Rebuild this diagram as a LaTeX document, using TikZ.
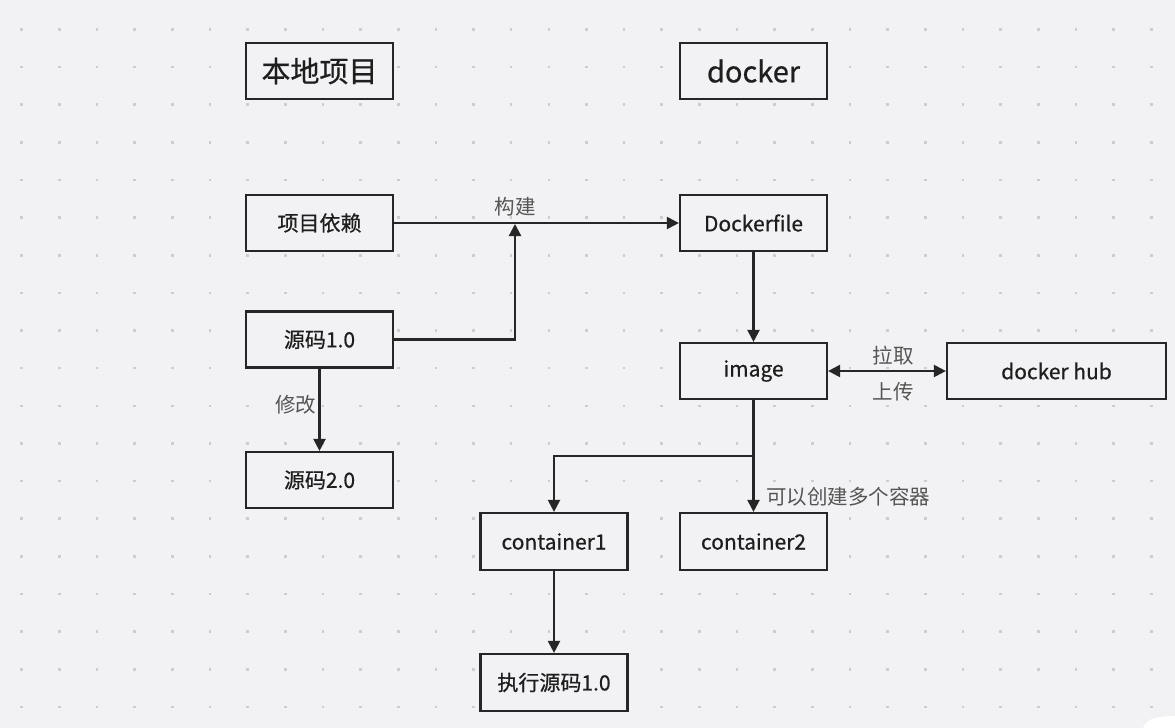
\documentclass[tikz,border=0pt]{standalone}
\usepackage{fontspec}
\setmainfont{Noto Sans CJK SC}
\newfontfamily\boxfont[FakeBold=0.6]{Noto Sans CJK SC}
\usetikzlibrary{arrows.meta,positioning}

\definecolor{paper}{HTML}{F2F2F4}
\definecolor{griddot}{HTML}{CDCDD1}
\definecolor{boxline}{HTML}{262626}
\definecolor{boxtext}{HTML}{1E1E1E}
\definecolor{notetext}{HTML}{555555}

\begin{document}
\begin{tikzpicture}[x=1pt, y=-1pt,
    box/.style={draw=boxline, line width=2.2pt, fill=paper, text=boxtext,
      minimum width=147pt, minimum height=56pt, inner sep=0pt,
      font=\boxfont\fontsize{21}{24}\selectfont},
    titlebox/.style={box, font=\boxfont\fontsize{29}{34}\selectfont},
    link/.style={draw=boxline, line width=2.2pt,
      -{Triangle[length=12pt, width=12pt]}},
    twoway/.style={link, {Triangle[length=12pt, width=12pt]}-{Triangle[length=12pt, width=12pt]}},
    note/.style={text=notetext, inner sep=0pt, font=\fontsize{20.5}{24}\selectfont}]

  % --- canvas with dot grid ---
  \useasboundingbox (0,0) rectangle (1175,728);
  \fill[paper] (0,0) rectangle (1175,728);
  \foreach \i in {0,...,30}
    \foreach \j in {0,...,18}
      \fill[griddot] (21.7+37.65*\i-1.3, 29.3+37.65*\j-1.3) rectangle ++(2.6,2.6);
  % corner of the window (screenshot)
  \fill[white] (1143,728) .. controls (1146,719) and (1156,716) .. (1175,716)
    -- (1175,728) -- cycle;

  % --- column titles ---
  \node[titlebox] (local)  at (319.5,71) {本地项目};
  \node[titlebox] (docker) at (753.5,71) {docker};

  % --- local project ---
  \node[box] (deps) at (319.5,223)   {项目依赖};
  \node[box] (src1) at (319.5,339.5) {源码1.0};
  \node[box] (src2) at (319.5,480)   {源码2.0};

  % --- docker side ---
  \node[box] (dockerfile) at (753.5,223) {Dockerfile};
  \node[box] (image)      at (753.5,371) {image};
  \node[box, minimum width=219pt] (hub) at (1056.5,371) {docker hub};
  \node[box, minimum height=57pt] (cont1) at (554,541.5)   {container1};
  \node[box, minimum height=57pt] (cont2) at (753.5,541.5) {container2};
  \node[box, minimum height=57pt] (run)   at (554,682.5)   {执行源码1.0};

  % --- build ---
  \coordinate (merge) at (515,224);
  \draw[link] (deps) -- (dockerfile);
  \draw[link] (src1) -| (merge);
  \node[note] (build) at (515,207) {构建};

  % --- edit ---
  \draw[link] (src1) -- (src2);
  \node[note] (edit) at (295.5,405) {修改};

  % --- image and registry ---
  \draw[link] (dockerfile) -- (image);
  \draw[twoway] (image) -- (hub);
  \node[note] (pull) at (893,356) {拉取};
  \node[note] (push) at (893,392) {上传};

  % --- containers ---
  \coordinate (split) at (753.5,456);
  \draw[link] (image) -- (cont2);
  \draw[link] (split) -| (cont1);
  \node[note, anchor=west] (many) at (766,497) {可以创建多个容器};
  \draw[link] (cont1) -- (run);

\end{tikzpicture}
\end{document}
